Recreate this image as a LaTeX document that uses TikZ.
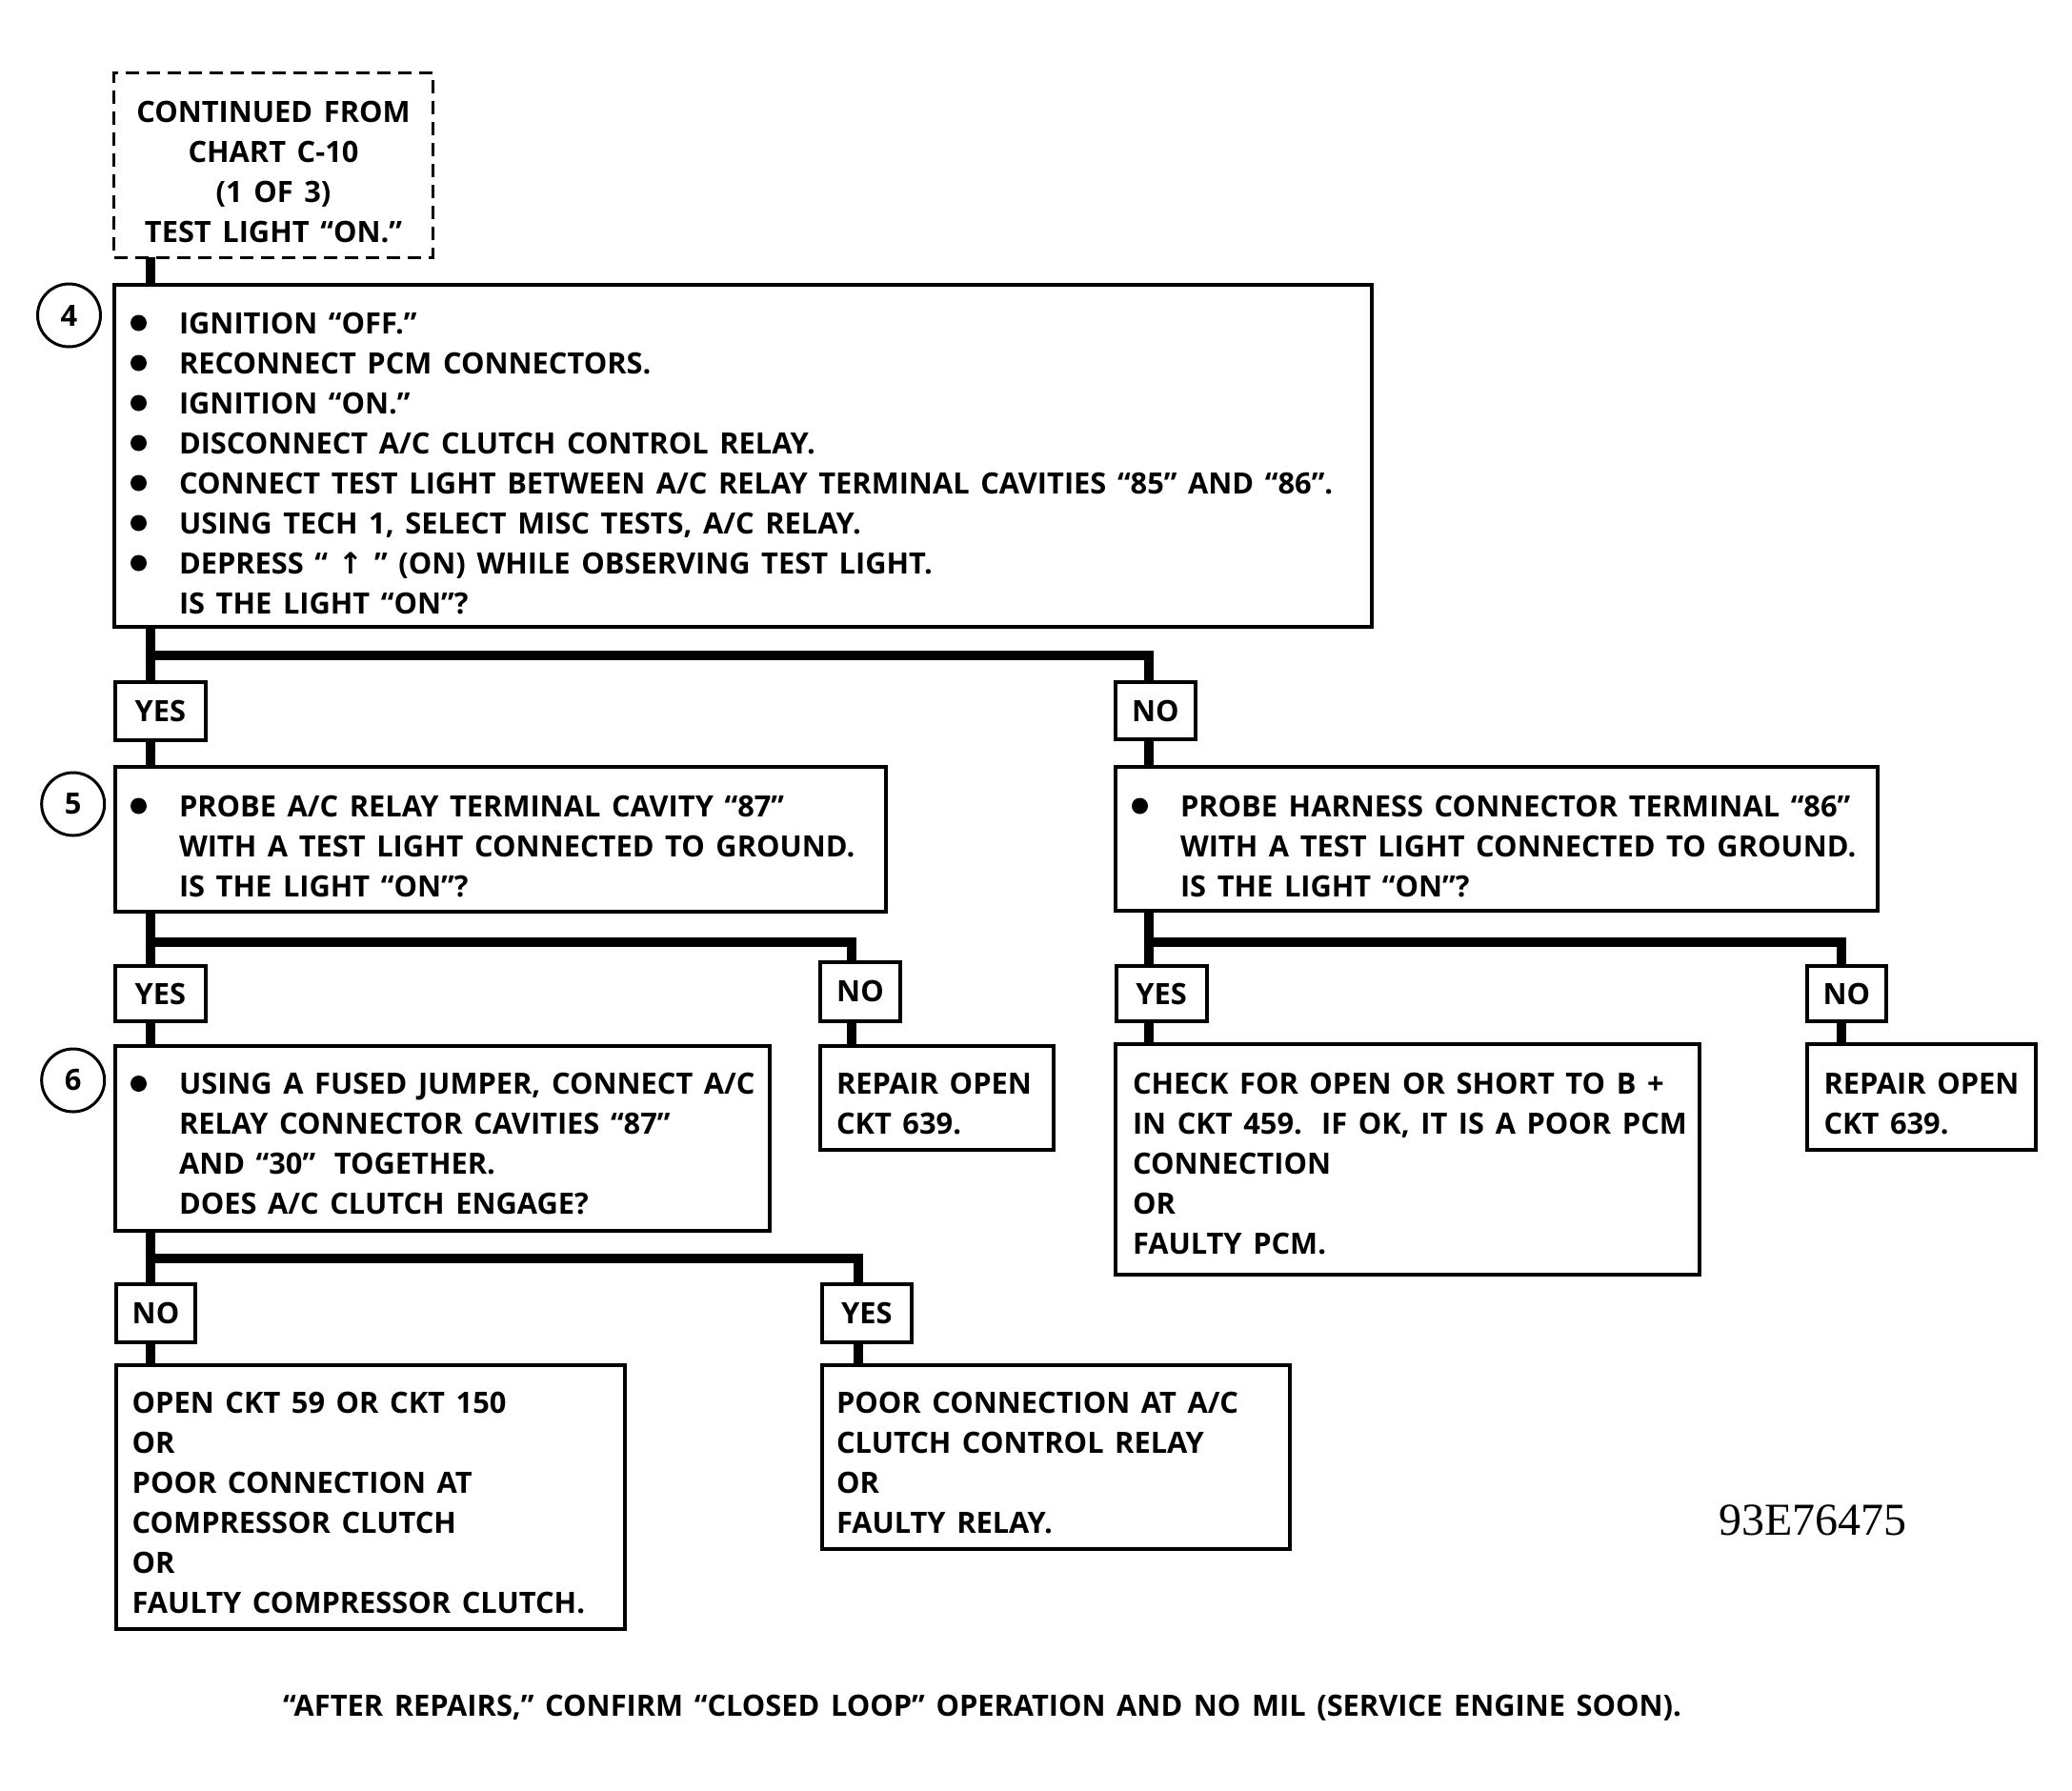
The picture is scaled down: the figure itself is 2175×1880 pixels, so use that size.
\documentclass[tikz,border=0pt]{standalone}
\usepackage{fontspec}
\setmainfont{Open Sans}[WordSpace=1.45]
\newfontfamily\dejavu{DejaVu Sans}
\newfontfamily\numserif{Liberation Serif}
\newcommand\dfont{\fontsize{15.4}{21}\selectfont\bfseries}
\newcommand\bul{\llap{\tikz[baseline=-5.5pt]\fill (0,0) circle (4.25pt);\hspace{17pt}}}
\newcommand\fst{\rule{0pt}{16pt}}
\tikzset{
  box/.style={draw, line width=2pt, inner sep=0pt, outer sep=0pt, anchor=north west, font=\dfont, align=center},
  dbox/.style={box, line width=1.5pt, dash pattern=on 7pt off 4pt},
  txt/.style={anchor=north west, inner sep=0pt, outer sep=0pt, align=left, font=\dfont},
  ctxt/.style={txt, anchor=north, align=center},
  conn/.style={line width=5pt, line join=miter, line cap=butt},
  num/.style={circle, draw, line width=1.5pt, minimum size=33pt, inner sep=0pt, font=\dfont},
}
% \bx[opts]{name}{left}{top}{right}{bottom}{text}
\newcommand\bx[7][]{\node[box,#1,minimum width={(#5-#3)*0.5pt},minimum height={(#6-#4)*0.5pt}] (#2) at (#3,#4) {#7};}
\begin{document}
\begin{tikzpicture}[x=0.5pt,y=-0.5pt]
\useasboundingbox (0,0) rectangle (2175,1880);
\fill[white] (0,0) rectangle (2175,1880);

% boxes
\bx[dbox]{d0}{119.6}{76.8}{454}{270}{}
\bx{b4}{120}{299}{1440}{658}{}
\bx{y4}{120.7}{716}{216}{777}{YES}
\bx{n4}{1170.6}{716}{1255}{776}{NO}
\bx{b5}{120.7}{805}{929.5}{956.7}{}
\bx{b5b}{1170.6}{805}{1970.7}{955.8}{}
\bx{y5}{120.7}{1014}{216}{1072}{YES}
\bx{n5}{861}{1010}{945}{1071.7}{NO}
\bx{y5b}{1171.5}{1014}{1266.6}{1072}{YES}
\bx{n5b}{1897}{1014}{1979.6}{1072}{NO}
\bx{b6}{120.7}{1097.8}{808}{1291.5}{}
\bx{r5}{861}{1097.8}{1106}{1207}{}
\bx{ck}{1170.6}{1096}{1784}{1337.5}{}
\bx{r5b}{1897}{1096}{2136.6}{1207}{}
\bx{n6}{122}{1348}{205}{1409}{NO}
\bx{y6}{862.7}{1348}{957}{1409}{YES}
\bx{rn}{122}{1433}{656}{1710}{}
\bx{ry}{862.7}{1433}{1353.7}{1625.6}{}

% step numbers
\node[num] (c4) at (72.5,331) {4};
\node[num] (c5) at (76.7,844) {5};
\node[num] (c6) at (76.7,1134) {6};

% texts
\node[ctxt] (t0) at (287,96) {\fst CONTINUED FROM\\CHART C-10\\(1 OF 3)\\TEST LIGHT “ON.”};
\node[txt] (t4) at (188,318) {\fst\bul IGNITION “OFF.”\\
\bul RECONNECT PCM CONNECTORS.\\
\bul IGNITION “ON.”\\
\bul DISCONNECT A/C CLUTCH CONTROL RELAY.\\
\bul CONNECT TEST LIGHT BETWEEN A/C RELAY TERMINAL CAVITIES “85” AND “86”.\\
\bul USING TECH 1, SELECT MISC TESTS, A/C RELAY.\\
\bul DEPRESS “ {\dejavu\bfseries ↑} ” (ON) WHILE OBSERVING TEST LIGHT.\\
IS THE LIGHT “ON”?};
\node[txt] (t5) at (188,825) {\fst\bul PROBE A/C RELAY TERMINAL CAVITY “87”\\
WITH A TEST LIGHT CONNECTED TO GROUND.\\
IS THE LIGHT “ON”?};
\node[txt] (t5b) at (1239,825) {\fst\bul PROBE HARNESS CONNECTOR TERMINAL “86”\\
WITH A TEST LIGHT CONNECTED TO GROUND.\\
IS THE LIGHT “ON”?};
\node[txt] (t6) at (188,1116.5) {\fst\bul USING A FUSED JUMPER, CONNECT A/C\\
RELAY CONNECTOR CAVITIES “87”\\
AND “30”\hspace{4pt} TOGETHER.\\
DOES A/C CLUTCH ENGAGE?};
\node[txt] (tr5) at (878,1116.5) {\fst REPAIR OPEN\\CKT 639.};
\node[txt] (tck) at (1189,1116.5) {\fst CHECK FOR OPEN OR SHORT TO B +\\
IN CKT 459.\hspace{3pt} IF OK, IT IS A POOR PCM\\
CONNECTION\\
OR\\
FAULTY PCM.};
\node[txt] (tr5b) at (1914.5,1116.5) {\fst REPAIR OPEN\\CKT 639.};
\node[txt] (trn) at (138.7,1451) {\fst OPEN CKT 59 OR CKT 150\\
OR\\
POOR CONNECTION AT\\
COMPRESSOR CLUTCH\\
OR\\
FAULTY COMPRESSOR CLUTCH.};
\node[txt] (try) at (878,1451) {\fst POOR CONNECTION AT A/C\\
CLUTCH CONTROL RELAY\\
OR\\
FAULTY RELAY.};
\node[anchor=base, inner sep=0pt, font=\numserif\fontsize{24}{24}\selectfont] (code) at (1903,1611) {93E76475};
\node[anchor=base, inner sep=0pt, font=\dfont] (foot) at (1031,1801) {“AFTER REPAIRS,” CONFIRM “CLOSED LOOP” OPERATION AND NO MIL (SERVICE ENGINE SOON).};

% connectors
\coordinate (j4) at (158,688);
\coordinate (k4) at (1206,688);
\draw[conn] (d0.south -| j4) -- (b4.north -| j4);
\draw[conn] (b4.south -| j4) -- (y4.north -| j4);
\draw[conn] (j4) -- (k4) -- (k4 |- n4.north);
\draw[conn] (y4.south -| j4) -- (b5.north -| j4);
\draw[conn] (n4.south -| k4) -- (b5b.north -| k4);

\coordinate (j5) at (158,989);
\coordinate (k5) at (894,989);
\draw[conn] (b5.south -| j5) -- (y5.north -| j5);
\draw[conn] (j5) -- (k5) -- (k5 |- n5.north);
\draw[conn] (y5.south -| j5) -- (b6.north -| j5);
\draw[conn] (n5.south -| k5) -- (r5.north -| k5);

\coordinate (j5b) at (1206,989);
\coordinate (k5b) at (1933,989);
\draw[conn] (b5b.south -| j5b) -- (y5b.north -| j5b);
\draw[conn] (j5b) -- (k5b) -- (k5b |- n5b.north);
\draw[conn] (y5b.south -| j5b) -- (ck.north -| j5b);
\draw[conn] (n5b.south -| k5b) -- (r5b.north -| k5b);

\coordinate (j6) at (158,1321);
\coordinate (k6) at (901,1321);
\draw[conn] (b6.south -| j6) -- (n6.north -| j6);
\draw[conn] (j6) -- (k6) -- (k6 |- y6.north);
\draw[conn] (n6.south -| j6) -- (rn.north -| j6);
\draw[conn] (y6.south -| k6) -- (ry.north -| k6);
\end{tikzpicture}
\end{document}
